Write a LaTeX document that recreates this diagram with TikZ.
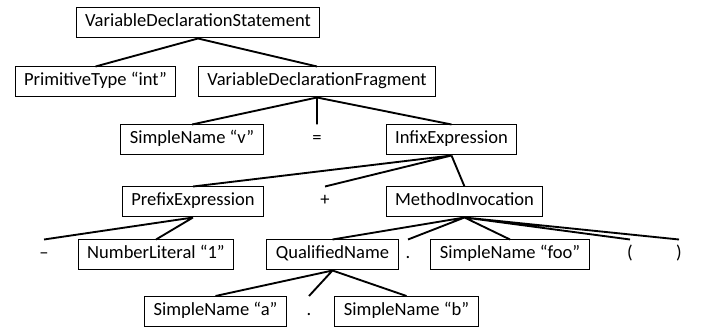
\documentclass[tikz,border=0pt]{standalone}
\usepackage{fontspec}
\setmainfont{Carlito}
\begin{document}
\begin{tikzpicture}[x=0.75pt, y=-0.75pt,
  box/.style={draw, line width=0.75pt, inner xsep=6.75pt, minimum height=22.5pt,
    text height=1.6ex, text depth=0.4ex, font=\fontsize{13.9}{16}\selectfont},
  tok/.style={box, draw=none},
  link/.style={line width=1.4pt}]
  \useasboundingbox (0,0) rectangle (702,327);
  \node[box] (vds) at (198,23) {VariableDeclarationStatement};
  \node[box] (prim) at (95.5,82) {PrimitiveType “int”};
  \node[box] (vdf) at (317,82) {VariableDeclarationFragment};
  \node[box] (namev) at (192,140) {SimpleName “v”};
  \node[tok] (eq) at (317,140) {=};
  \node[box] (infix) at (451.5,140) {InfixExpression};
  \node[box] (prefix) at (193,202) {PrefixExpression};
  \node[tok] (plus) at (325,202) {+};
  \node[box] (call) at (464.5,202) {MethodInvocation};
  \node[tok] (minus) at (44,255) {–};
  \node[box] (num) at (156,255) {NumberLiteral “1”};
  \node[box] (qual) at (332.5,255) {QualifiedName};
  \node[tok] (dotA) at (408,255) {.};
  \node[box] (namefoo) at (510,255) {SimpleName “foo”};
  \node[tok] (lpar) at (630,255) {(};
  \node[tok] (rpar) at (679,255) {)};
  \node[box] (namea) at (215.5,311.5) {SimpleName “a”};
  \node[tok] (dotB) at (309,311.5) {.};
  \node[box] (nameb) at (406.5,311.5) {SimpleName “b”};
  \draw[link] (vds.south) -- (prim.north) (vds.south) -- (vdf.north);
  \draw[link] (vdf.south) -- (namev.north) (vdf.south) -- (eq.north) (vdf.south) -- (infix.north);
  \draw[link] (infix.south) -- (prefix.north) (infix.south) -- (plus.north) (infix.south) -- (call.north);
  \draw[link] (prefix.south) -- (minus.north) (prefix.south) -- (num.north);
  \draw[link] (call.south) -- (qual.north) (call.south) -- (dotA.north) (call.south) -- (namefoo.north)
    (call.south) -- (lpar.north) (call.south) -- (rpar.north);
  \draw[link] (qual.south) -- (namea.north) (qual.south) -- (dotB.north) (qual.south) -- (nameb.north);
\end{tikzpicture}
\end{document}
